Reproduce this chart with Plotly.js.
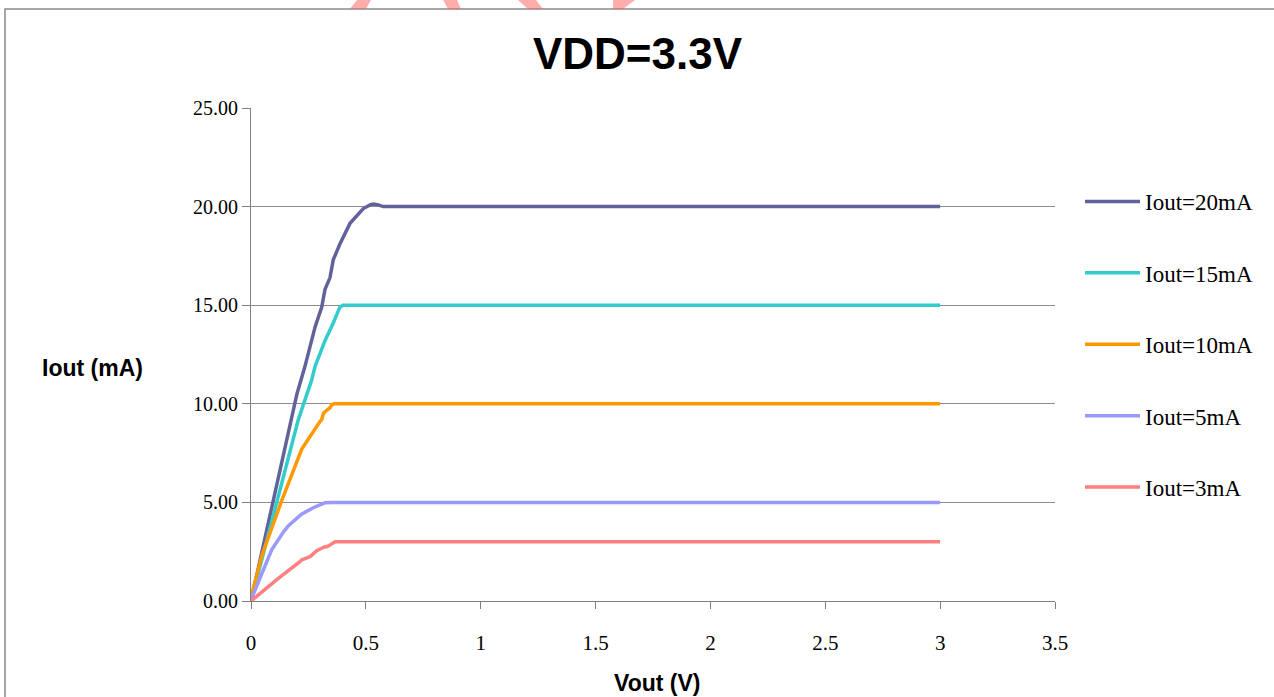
<!DOCTYPE html>
<html>
<head>
<meta charset="utf-8">
<script src="https://cdn.plot.ly/plotly-3.0.1.min.js"></script>
<style>
  html, body { margin: 0; padding: 0; background: #ffffff; }
  #chart { width: 1274px; height: 697px; }
</style>
</head>
<body>
<div id="chart"></div>
<script>
// ---- Data ----
const seriesNames = ["Iout=20mA", "Iout=15mA", "Iout=10mA", "Iout=5mA", "Iout=3mA"];
const seriesColors = ["#62629a", "#33cccc", "#ff9900", "#9999ff", "#ff8080"];

const vout20 = [0, 0.1, 0.177, 0.2, 0.235, 0.279, 0.308, 0.322, 0.344, 0.358, 0.387, 0.431, 0.489, 0.52, 0.533, 0.55, 0.576, 1, 1.5, 2, 2.5, 3];
const iout20 = [0, 5.2, 9.2, 10.5, 11.9, 13.9, 14.9, 15.8, 16.4, 17.3, 18.1, 19.15, 19.9, 20.1, 20.13, 20.1, 20.0, 20, 20, 20, 20, 20];

const vout15 = [0, 0.1, 0.206, 0.264, 0.279, 0.322, 0.344, 0.358, 0.387, 0.40, 0.42, 1, 1.5, 2, 2.5, 3];
const iout15 = [0, 4.5, 9.2, 11.2, 11.9, 13.2, 13.7, 14.1, 14.9, 15.0, 15.0, 15, 15, 15, 15, 15];

const vout10 = [0, 0.05, 0.134, 0.221, 0.30, 0.308, 0.315, 0.322, 0.344, 0.351, 0.361, 0.4, 1, 1.5, 2, 2.5, 3];
const iout10 = [0.2, 2.4, 5.1, 7.7, 9.1, 9.2, 9.5, 9.6, 9.8, 9.95, 10.0, 10, 10, 10, 10, 10, 10];

const vout5 = [0, 0.09, 0.141, 0.162, 0.22, 0.235, 0.271, 0.322, 0.35, 1, 1.5, 2, 2.5, 3];
const iout5 = [0.05, 2.6, 3.5, 3.8, 4.4, 4.5, 4.73, 4.98, 5.0, 5, 5, 5, 5, 5];

const vout3 = [0, 0.119, 0.213, 0.22, 0.257, 0.279, 0.286, 0.322, 0.33, 0.344, 0.366, 1, 1.5, 2, 2.5, 3];
const iout3 = [0, 1.15, 1.99, 2.08, 2.25, 2.5, 2.55, 2.75, 2.75, 2.84, 3.0, 3, 3, 3, 3, 3];

const xTickVals = [0, 0.5, 1, 1.5, 2, 2.5, 3, 3.5];
const xTickText = ["0", "0.5", "1", "1.5", "2", "2.5", "3", "3.5"];
const yTickVals = [0, 5, 10, 15, 20, 25];
const yTickText = ["0.00", "5.00", "10.00", "15.00", "20.00", "25.00"];

const titleText = "VDD=3.3V";
const xTitleText = "Vout (V)";
const yTitleText = "Iout (mA)";

// ---- Build traces ----
const xs = [vout20, vout15, vout10, vout5, vout3];
const ys = [iout20, iout15, iout10, iout5, iout3];
const traces = seriesNames.map((name, i) => ({
  type: "scatter",
  mode: "lines",
  name: name,
  x: xs[i],
  y: ys[i],
  legendgroup: "g" + i,
  line: { color: seriesColors[i], width: 3.5, shape: "linear" },
  hoverinfo: "skip"
}));

// ---- Layout geometry (pixels) ----
const W = 1274, H = 697;
const L = 251, R = 1055, T = 108, B = 601;
const pw = R - L, ph = B - T;
const px = (x) => (x - L) / pw;
const py = (y) => (B - y) / ph;

function poly(pts) {
  return "M" + pts.map(p => px(p[0]) + "," + py(p[1])).join(" L") + " Z";
}

const stampFill = "rgba(255,90,90,0.5)";
const stampBlobs = [
  [[350, 9], [366, 9], [371, 0], [357, 0]],
  [[443, 0], [457, 0], [461, 9], [448, 9]],
  [[518, 0], [536, 0], [543, 9], [528, 9]],
  [[613, 0], [635, 0], [623, 9], [613, 9]]
];

const shapes = [
  {
    type: "rect", xref: "paper", yref: "paper", layer: "below",
    x0: px(5), x1: px(1290), y0: py(9), y1: py(720),
    line: { color: "#8a8a8a", width: 1.5 }, fillcolor: "rgba(0,0,0,0)"
  }
].concat(stampBlobs.map(b => ({
  type: "path", xref: "paper", yref: "paper", layer: "above",
  path: poly(b), fillcolor: stampFill, line: { width: 0 }
})));

const layout = {
  width: W, height: H,
  margin: { l: L, r: W - R, t: T, b: H - B, pad: 0 },
  paper_bgcolor: "#ffffff",
  plot_bgcolor: "#ffffff",
  showlegend: true,
  title: {
    text: "<b>" + titleText + "</b>",
    font: { family: "Liberation Sans, Arial, sans-serif", size: 44, color: "#000000" },
    x: 637.5 / W, xref: "container", xanchor: "center",
    y: 1 - 54 / H, yref: "container", yanchor: "middle"
  },
  xaxis: {
    range: [0, 3.5],
    tickmode: "array", tickvals: xTickVals, ticktext: xTickText,
    ticks: "outside", ticklen: 7, tickcolor: "#808080", tickwidth: 1,
    ticklabelstandoff: 16,
    showline: true, linecolor: "#808080", linewidth: 1,
    showgrid: false, zeroline: false,
    tickfont: { family: "Liberation Serif, Times New Roman, serif", size: 21, color: "#000000" },
    fixedrange: true
  },
  yaxis: {
    range: [0, 25],
    tickmode: "array", tickvals: yTickVals, ticktext: yTickText,
    ticks: "outside", ticklen: 8, tickcolor: "#808080", tickwidth: 1,
    ticklabelstandoff: 0,
    showline: true, linecolor: "#808080", linewidth: 1,
    showgrid: true, gridcolor: "#8c8c8c", gridwidth: 1,
    zeroline: false,
    tickfont: { family: "Liberation Serif, Times New Roman, serif", size: 20, color: "#000000" },
    fixedrange: true
  },
  legend: {
    x: px(1080), y: py(180), xanchor: "left", yanchor: "top",
    xref: "paper", yref: "paper",
    font: { family: "Liberation Serif, Times New Roman, serif", size: 23, color: "#000000" },
    bgcolor: "rgba(255,255,255,0)", borderwidth: 0,
    tracegroupgap: 38.5,
    itemwidth: 55,
    traceorder: "grouped"
  },
  annotations: [
    {
      text: "<b>" + yTitleText + "</b>", xref: "paper", yref: "paper",
      x: px(92), y: py(368), xanchor: "center", yanchor: "middle", showarrow: false,
      font: { family: "Liberation Sans, Arial, sans-serif", size: 23, color: "#000000" }
    },
    {
      text: "<b>" + xTitleText + "</b>", xref: "paper", yref: "paper",
      x: px(657), y: py(683), xanchor: "center", yanchor: "middle", showarrow: false,
      font: { family: "Liberation Sans, Arial, sans-serif", size: 23, color: "#000000" }
    }
  ],
  shapes: shapes,
  hovermode: false
};

Plotly.newPlot("chart", traces, layout, { displayModeBar: false, staticPlot: true, responsive: false });
</script>
</body>
</html>
